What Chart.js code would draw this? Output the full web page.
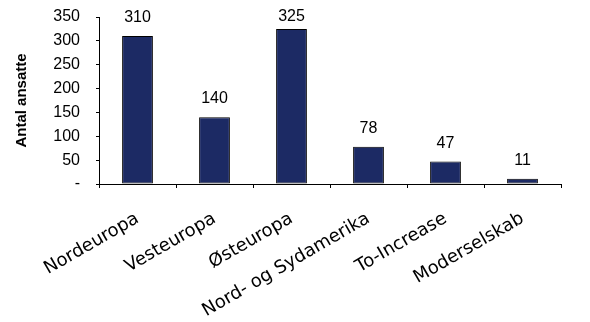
<!DOCTYPE html>
<html>
<head>
<meta charset="utf-8">
<script src="https://cdn.jsdelivr.net/npm/chart.js@4"></script>
<style>
  html, body { margin: 0; padding: 0; background: #fff; }
  #wrap { width: 590px; height: 322px; }
</style>
</head>
<body>
<div id="wrap"><canvas id="chart" width="590" height="322"></canvas></div>
<script>
const categories = ['Nordeuropa', 'Vesteuropa', 'Østeuropa', 'Nord- og Sydamerika', 'To-Increase', 'Moderselskab'];
const employees = [310, 140, 325, 78, 47, 11];
const yTicks = [0, 50, 100, 150, 200, 250, 300, 350];

// draws the value above each bar (kept inside the plot area at the top)
const valueLabels = {
    id: 'valueLabels',
    afterDatasetsDraw(chart) {
        const ctx = chart.ctx;
        const meta = chart.getDatasetMeta(0);
        const top = chart.chartArea.top;
        ctx.save();
        ctx.font = '16px "Liberation Sans", Arial, sans-serif';
        ctx.fillStyle = '#000';
        ctx.textAlign = 'center';
        ctx.textBaseline = 'alphabetic';
        meta.data.forEach((bar, i) => {
            ctx.fillText(String(employees[i]), bar.x, Math.max(bar.y - 14, top + 4));
        });
        ctx.restore();
    },
};

const ctx = document.getElementById('chart').getContext('2d');
new Chart(ctx, {
    type: 'bar',
    data: {
        labels: categories,
        datasets: [{
            data: employees,
            backgroundColor: '#1C2A64',
            borderColor: '#000',
            borderWidth: 1,
            borderSkipped: false,
            barPercentage: 0.4,
            categoryPercentage: 1,
        }],
    },
    options: {
        responsive: false,
        animation: false,
        layout: { padding: { top: 17, right: 29, bottom: 0, left: 0 } },
        plugins: {
            legend: { display: false },
            tooltip: { enabled: false },
        },
        scales: {
            x: {
                afterFit: (scale) => { scale.height = 138; },
                grid: {
                    display: true,
                    drawOnChartArea: false,
                    drawTicks: true,
                    tickLength: 4,
                    color: '#000',
                },
                border: { color: '#000', width: 1 },
                ticks: {
                    minRotation: 30,
                    maxRotation: 30,
                    autoSkip: false,
                    padding: 20,
                    color: '#000',
                    font: { family: '"DejaVu Sans", Verdana, sans-serif', size: 18 },
                },
            },
            y: {
                min: 0,
                max: 350,
                afterFit: (scale) => {
                    scale.width = 99;
                    scale.paddingTop = 0;
                    scale.paddingBottom = 0;
                },
                afterBuildTicks: (scale) => { scale.ticks = yTicks.map(v => ({ value: v })); },
                title: {
                    display: true,
                    text: 'Antal ansatte',
                    color: '#000',
                    font: { family: '"Liberation Sans", Arial, sans-serif', size: 15, weight: 'bold' },
                    padding: { top: 13, bottom: 0 },
                },
                grid: {
                    display: true,
                    drawOnChartArea: false,
                    drawTicks: true,
                    tickLength: 3,
                    color: '#000',
                },
                border: { color: '#000', width: 1 },
                ticks: {
                    padding: 16,
                    color: '#000',
                    font: { family: '"Liberation Sans", Arial, sans-serif', size: 16 },
                    callback: (value) => value === 0 ? '-' : value,
                },
            },
        },
    },
    plugins: [valueLabels],
});
</script>
</body>
</html>
